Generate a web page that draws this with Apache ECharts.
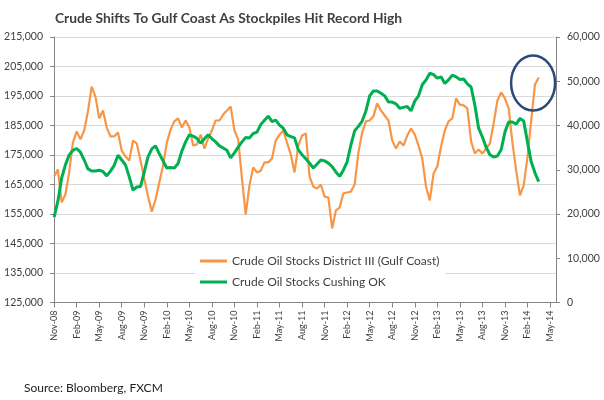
<!DOCTYPE html>
<html><head><meta charset="utf-8">
<script src="https://cdn.jsdelivr.net/npm/echarts@6/dist/echarts.min.js"></script>
<style>html,body{margin:0;padding:0;background:#fff}#c{width:604px;height:400px}</style>
</head><body><div id="c"></div>
<script>
// Quarterly tick labels, one every 3 months starting Nov-08 (month 0)
const xTickLabels = ['Nov-08','Feb-09','May-09','Aug-09','Nov-09','Feb-10','May-10','Aug-10','Nov-10','Feb-11','May-11','Aug-11','Nov-11','Feb-12','May-12','Aug-12','Nov-12','Feb-13','May-13','Aug-13','Nov-13','Feb-14','May-14'];
const seriesNames = ['Crude Oil Stocks District III (Gulf Coast)', 'Crude Oil Stocks Cushing OK'];
// Samples every half month starting at the start of Nov 2008 (thousand barrels)
const stepMonths = 0.5;
const gulfCoast = [
167700,170100,158900,161600,169100,179200,183000,180300,183300,189700,
198200,194800,187400,190100,184300,181300,181300,182600,176500,174500,
173100,179900,178900,173100,167000,160900,155800,159900,165700,171400,
179200,183600,186400,187400,184300,186700,184300,178200,178600,181900,
177200,180600,183300,186700,186700,188700,190100,191400,183300,180300,
167000,154800,164700,170800,169100,169700,172500,172500,173800,179900,
181900,183300,179200,175200,169100,178200,181600,182300,167700,164300,
163600,165000,160900,160600,150100,156200,157200,162000,162300,162600,
165000,175800,182600,186400,186700,188100,192500,190100,188400,186700,
179900,177200,179600,178200,181600,184000,182000,178200,173800,164300,
159600,168700,171100,177900,183300,186400,187400,194200,192100,191800,
190800,179600,175500,176900,175500,177200,178900,185700,193500,196200,
194200,190800,179200,169700,161300,164700,174200,186700,198900,201300
];
const cushing = [
19300,22900,28100,31100,33300,34400,34800,34000,32200,30200,
29700,29700,29900,29600,28600,29700,31000,33300,32200,31100,
28400,25400,26100,26200,29500,32900,34700,35400,33600,32000,
30400,30500,30400,31400,34200,36300,37900,37600,37100,36000,
37000,37900,37000,36300,35400,34900,34400,32700,33800,35100,
36300,37300,37200,38200,38500,40200,41200,42100,40900,41200,
40100,39400,37900,37500,37200,34500,33400,32500,31500,30400,
31300,32200,32000,31500,30700,29500,28500,29900,31800,35600,
38800,39800,41000,43300,46700,47800,47800,47300,46700,45300,
45300,44900,43900,44100,44300,43300,45500,46700,49200,50300,
51800,51500,50700,51000,49500,50300,51400,51000,50400,50500,
49400,48700,44600,39400,37400,35100,33400,32900,33100,34500,
38500,40800,40800,40300,41600,41000,36300,31800,29300,27300
];
// Highlighted region (the circle): month offset and Gulf Coast level
const highlight = [63.75, 199400];

const tickMonths = xTickLabels.map((_, i) => i * 3);
const FONT = 'Lato';
const axisColor = '#868686';
const textColor = '#404040';

const chart = echarts.init(document.getElementById('c'), null, {renderer: 'canvas'});
const option = {
  animation: false,
  backgroundColor: '#fff',
  textStyle: {fontFamily: FONT},
  title: [
    {text: 'Crude Shifts To Gulf Coast As Stockpiles Hit Record High', left: 50, top: 7,
     textStyle: {fontFamily: FONT, fontSize: 13.8, fontWeight: 'bold', color: '#404040'}},
    {text: 'Source: Bloomberg, FXCM', left: 19, top: 377,
     textStyle: {fontFamily: FONT, fontSize: 12, fontWeight: 'normal', color: '#222'}}
  ],
  grid: {left: 53, right: 48, top: 37, bottom: 97.5, containLabel: false},
  legend: {
    orient: 'vertical', left: 195, top: 250, padding: [5, 6, 5, 5], itemGap: 9,
    backgroundColor: '#fff', icon: 'rect', itemWidth: 27, itemHeight: 3,
    textStyle: {fontFamily: FONT, fontSize: 12, color: textColor},
    data: seriesNames
  },
  xAxis: {
    type: 'value', min: -0.15, max: 66.8,
    splitLine: {show: false},
    axisLine: {show: true, lineStyle: {color: axisColor, width: 1}},
    axisTick: {show: true, customValues: tickMonths, length: 5, lineStyle: {color: axisColor}},
    axisLabel: {
      customValues: tickMonths, rotate: 90, margin: 8,
      fontFamily: FONT, fontSize: 9, color: textColor,
      formatter: v => xTickLabels[Math.round(v / 3)] || ''
    }
  },
  yAxis: [
    {type: 'value', min: 125000, max: 215000, interval: 10000, position: 'left',
     axisLine: {show: true, lineStyle: {color: axisColor}},
     axisTick: {show: true, length: 4, lineStyle: {color: axisColor}},
     axisLabel: {margin: 10, fontFamily: FONT, fontSize: 10.5, color: textColor},
     splitLine: {show: true, lineStyle: {color: '#D9D9D9', width: 1}}},
    {type: 'value', min: 0, max: 60000, interval: 10000, position: 'right',
     axisLine: {show: true, lineStyle: {color: axisColor}},
     axisTick: {show: true, length: 4, lineStyle: {color: axisColor}},
     axisLabel: {margin: 11, fontFamily: FONT, fontSize: 10.5, color: textColor},
     splitLine: {show: false}}
  ],
  series: [
    {name: seriesNames[0], type: 'line', yAxisIndex: 0, showSymbol: false, z: 2,
     color: '#F79646', lineStyle: {color: '#F79646', width: 2.2},
     data: gulfCoast.map((v, i) => [i * stepMonths, v])},
    {name: seriesNames[1], type: 'line', yAxisIndex: 1, showSymbol: false, z: 3,
     color: '#00B050', lineStyle: {color: '#00B050', width: 3},
     data: cushing.map((v, i) => [i * stepMonths, v])}
  ]
};
chart.setOption(option);
const c = chart.convertToPixel({xAxisIndex: 0, yAxisIndex: 0}, highlight);
chart.setOption({
  graphic: [{type: 'ellipse', z: 10, shape: {cx: c[0], cy: c[1], rx: 22, ry: 27.5},
    style: {fill: 'none', stroke: '#2B4A78', lineWidth: 2.5}}]
});
</script></body></html>
